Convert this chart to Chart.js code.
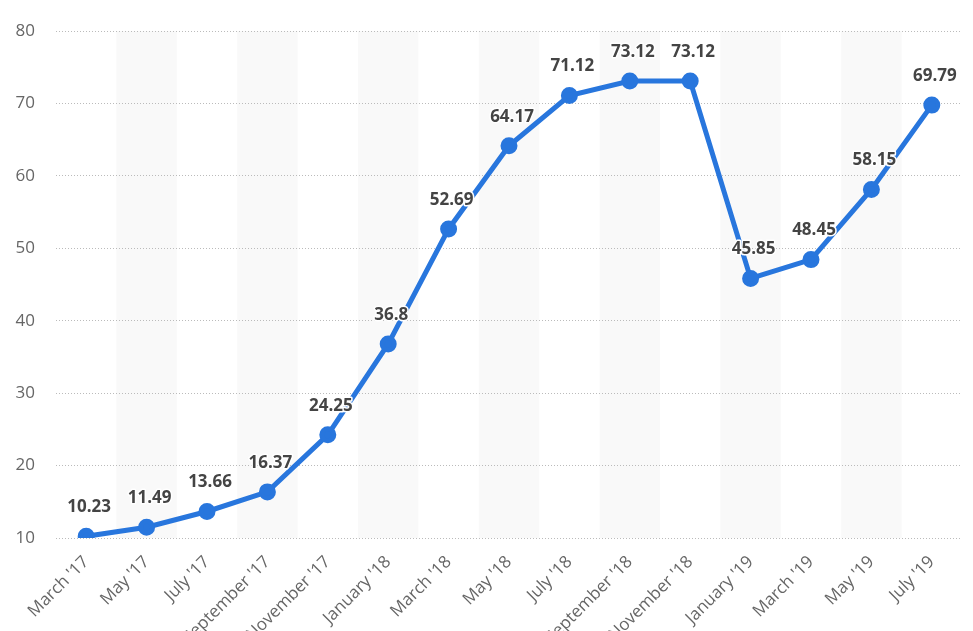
<!DOCTYPE html>
<html>
<head>
<meta charset="utf-8">
<script src="https://cdn.jsdelivr.net/npm/chart.js@4"></script>
<style>
  html, body { margin: 0; padding: 0; background: #fff; overflow: hidden; }
  #wrap { width: 973px; height: 631px; }
</style>
</head>
<body>
<div id="wrap"><canvas id="myChart"></canvas></div>
<script>
const months = ["March '17", "May '17", "July '17", "September '17", "November '17", "January '18", "March '18",
    "May '18", "July '18", "September '18", "November '18", "January '19", "March '19", "May '19", "July '19"];
const values = [10.23, 11.49, 13.66, 16.37, 24.25, 36.8, 52.69, 64.17, 71.12, 73.12, 73.12, 45.85, 48.45, 58.15, 69.79];
const yTicks = [10, 20, 30, 40, 50, 60, 70, 80];

// grey bands behind every other column
const bands = {
    id: 'bands',
    beforeDraw(chart) {
        const x = chart.scales.x, area = chart.chartArea, c = chart.ctx;
        const step = x.getPixelForValue(1) - x.getPixelForValue(0);
        c.save();
        c.fillStyle = '#f9f9f9';
        for (let i = 1; i < months.length; i += 2) {
            c.fillRect(x.getPixelForValue(i) - step / 2, area.top, step, area.bottom - area.top);
        }
        c.restore();
    }
};

// value labels above points
const valueLabels = {
    id: 'valueLabels',
    afterDatasetsDraw(chart) {
        const c = chart.ctx;
        const pts = chart.getDatasetMeta(0).data;
        c.save();
        c.font = 'bold 17px "Open Sans"';
        c.textAlign = 'center';
        c.textBaseline = 'middle';
        c.lineJoin = 'round';
        pts.forEach((p, i) => {
            const tx = p.x + 3, ty = p.y - 29;
            c.strokeStyle = '#fff';
            c.lineWidth = 3;
            c.strokeText(String(values[i]), tx, ty);
            c.fillStyle = '#444';
            c.fillText(String(values[i]), tx, ty);
        });
        c.restore();
    }
};

new Chart(document.getElementById('myChart'), {
    type: 'line',
    data: {
        labels: months,
        datasets: [{
            data: values,
            borderColor: '#2876dd',
            backgroundColor: '#2876dd',
            borderWidth: 5,
            pointRadius: 6,
            pointHoverRadius: 6,
            tension: 0
        }]
    },
    options: {
        responsive: true,
        maintainAspectRatio: false,
        animation: false,
        layout: { padding: { top: 31, right: 9, left: 0, bottom: 0 } },
        plugins: { legend: { display: false }, tooltip: { enabled: false } },
        scales: {
            x: {
                offset: true,
                grid: { display: false, drawTicks: false },
                border: { display: false },
                ticks: {
                    autoSkip: false,
                    maxRotation: 45,
                    minRotation: 45,
                    padding: 14,
                    color: '#666',
                    font: { family: 'Open Sans', size: 17 }
                },
                afterFit(scale) { scale.height = 93; }
            },
            y: {
                min: 10,
                max: 80,
                afterBuildTicks(scale) { scale.ticks = yTicks.map(v => ({ value: v })); },
                grid: { color: '#bbb', lineWidth: 1, drawTicks: false },
                border: { display: false, dash: [1, 2] },
                ticks: {
                    padding: 21,
                    color: '#666',
                    font: { family: 'Open Sans', size: 17 }
                },
                afterFit(scale) { scale.width = 56; }
            }
        }
    },
    plugins: [bands, valueLabels]
});
</script>
</body>
</html>
